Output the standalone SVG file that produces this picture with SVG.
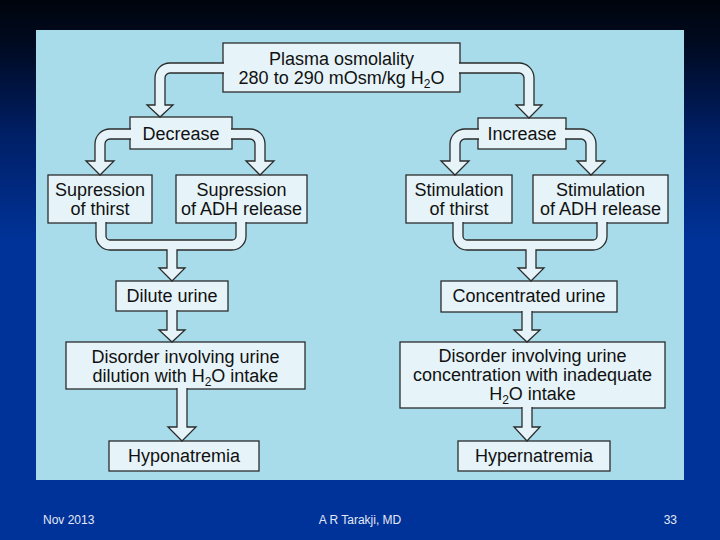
<svg xmlns="http://www.w3.org/2000/svg" width="720" height="540" viewBox="0 0 720 540">
<defs>
<linearGradient id="bg" x1="0" y1="0" x2="0" y2="1">
<stop offset="0" stop-color="#00040c"/>
<stop offset="0.08" stop-color="#000a20"/>
<stop offset="0.25" stop-color="#001f66"/>
<stop offset="0.45" stop-color="#003399"/>
<stop offset="1" stop-color="#003399"/>
</linearGradient>
<style>
.box{fill:#E6F4F9;stroke:#2B2B2B;stroke-width:1.3}
.arr{fill:#E6F4F9;stroke:#2B2B2B;stroke-width:1.3;stroke-linejoin:miter}
.af{fill:#E6F4F9;stroke:none}
.al{fill:none;stroke:#2B2B2B;stroke-width:1.3}
.t{font-family:"Liberation Sans",Arial,Helvetica,sans-serif;font-size:18px;fill:#111;text-anchor:middle}
.sub{font-size:12px}
.f{font-family:"Liberation Sans",Arial,sans-serif;font-size:12px;fill:#E4E8F4}
</style>
</defs>
<rect x="0" y="0" width="720" height="540" fill="url(#bg)"/>
<rect x="36" y="30" width="648" height="450" fill="#A8DCEA"/>

<g id="plasma">
<rect class="box" x="223" y="43" width="237" height="49"/>
<text class="t" x="341.5" y="65">Plasma osmolality</text>
<text class="t" x="341.5" y="84">280 to 290 mOsm/kg H<tspan class="sub" dy="4">2</tspan><tspan dy="-4">O</tspan></text>
</g>
<g id="decrease">
<rect class="box" x="130" y="117" width="102" height="32"/>
<text class="t" x="181" y="140">Decrease</text>
</g>
<g id="increase">
<rect class="box" x="478" y="118" width="88" height="31"/>
<text class="t" x="522" y="140">Increase</text>
</g>
<g id="sup-thirst">
<rect class="box" x="48" y="175" width="104" height="48"/>
<text class="t" x="100" y="196">Supression</text>
<text class="t" x="100" y="215">of thirst</text>
</g>
<g id="sup-adh">
<rect class="box" x="176" y="175" width="131" height="48"/>
<text class="t" x="241.5" y="196">Supression</text>
<text class="t" x="241.5" y="215">of ADH release</text>
</g>
<g id="stim-thirst">
<rect class="box" x="406" y="175" width="106" height="48"/>
<text class="t" x="459" y="196">Stimulation</text>
<text class="t" x="459" y="215">of thirst</text>
</g>
<g id="stim-adh">
<rect class="box" x="533" y="175" width="135" height="48"/>
<text class="t" x="600.5" y="196">Stimulation</text>
<text class="t" x="600.5" y="215">of ADH release</text>
</g>
<g id="dilute">
<rect class="box" x="116" y="281" width="112" height="30"/>
<text class="t" x="172" y="302">Dilute urine</text>
</g>
<g id="concentrated">
<rect class="box" x="441" y="281" width="176" height="31"/>
<text class="t" x="529" y="302">Concentrated urine</text>
</g>
<g id="disorder-dilution">
<rect class="box" x="66" y="342" width="239" height="47"/>
<text class="t" x="185.5" y="363">Disorder involving urine</text>
<text class="t" x="185.5" y="382">dilution with H<tspan class="sub" dy="4">2</tspan><tspan dy="-4">O intake</tspan></text>
</g>
<g id="disorder-concentration">
<rect class="box" x="400" y="342" width="265" height="66"/>
<text class="t" x="532.5" y="362">Disorder involving urine</text>
<text class="t" x="532.5" y="381">concentration with inadequate</text>
<text class="t" x="532.5" y="400">H<tspan class="sub" dy="4">2</tspan><tspan dy="-4">O intake</tspan></text>
</g>
<g id="hyponatremia">
<rect class="box" x="109" y="441" width="150" height="30"/>
<text class="t" x="184" y="462">Hyponatremia</text>
</g>
<g id="hypernatremia">
<rect class="box" x="458" y="441" width="152" height="30"/>
<text class="t" x="534" y="462">Hypernatremia</text>
</g>

<g id="connectors">
<path class="arr" d="M224,63 H170 A15,15 0 0 0 155,78 V105 H147 L160,117 L173,105 H165 V78 A5,5 0 0 1 170,73 H224"/>
<path class="arr" d="M459,63 H519 A15,15 0 0 1 534,78 V105 H542 L529,118 L516,105 H524 V78 A5,5 0 0 0 519,73 H459"/>
<path class="arr" d="M131,129 H110 A15,15 0 0 0 95,144 V161 H86 L100,175 L114,161 H105 V144 A5,5 0 0 1 110,139 H131"/>
<path class="arr" d="M231,129 H250 A15,15 0 0 1 265,144 V161 H274 L260,175 L246,161 H255 V144 A5,5 0 0 0 250,139 H231"/>
<path class="arr" d="M479,129 H465 A15,15 0 0 0 450,144 V161 H441 L455,175 L469,161 H460 V144 A5,5 0 0 1 465,139 H479"/>
<path class="arr" d="M565,129 H581 A15,15 0 0 1 596,144 V161 H605 L591,175 L577,161 H586 V144 A5,5 0 0 0 581,139 H565"/>

<path class="af" d="M96,222 V236 A14,14 0 0 0 110,250 H167 V268 H159 L172,281 L185,268 H177 V250 H232 A14,14 0 0 0 246,236 V222 H236 V236 A4,4 0 0 1 232,240 H110 A4,4 0 0 1 106,236 V222 Z"/>
<path class="al" d="M96,222 V236 A14,14 0 0 0 110,250 H167 V268 H159 L172,281 L185,268 H177 V250 H232 A14,14 0 0 0 246,236 V222 M236,222 V236 A4,4 0 0 1 232,240 H110 A4,4 0 0 1 106,236 V222"/>

<path class="af" d="M453,222 V236 A14,14 0 0 0 467,250 H526 V268 H518 L531,281 L544,268 H536 V250 H593 A14,14 0 0 0 607,236 V222 H597 V236 A4,4 0 0 1 593,240 H467 A4,4 0 0 1 463,236 V222 Z"/>
<path class="al" d="M453,222 V236 A14,14 0 0 0 467,250 H526 V268 H518 L531,281 L544,268 H536 V250 H593 A14,14 0 0 0 607,236 V222 M597,222 V236 A4,4 0 0 1 593,240 H467 A4,4 0 0 1 463,236 V222"/>

<path class="arr" d="M167,310 V330 H159 L172,342 L185,330 H177 V310"/>
<path class="arr" d="M177,388 V427 H168 L182,441 L196,427 H187 V388"/>
<path class="arr" d="M522,311 V330 H514 L527,342 L540,330 H532 V311"/>
<path class="arr" d="M522,407 V427 H514 L527,441 L540,427 H532 V407"/>
</g>

<text class="f" x="43" y="524">Nov 2013</text>
<text class="f" x="360" y="524" text-anchor="middle">A R Tarakji, MD</text>
<text class="f" x="677" y="524" text-anchor="end">33</text>
</svg>
